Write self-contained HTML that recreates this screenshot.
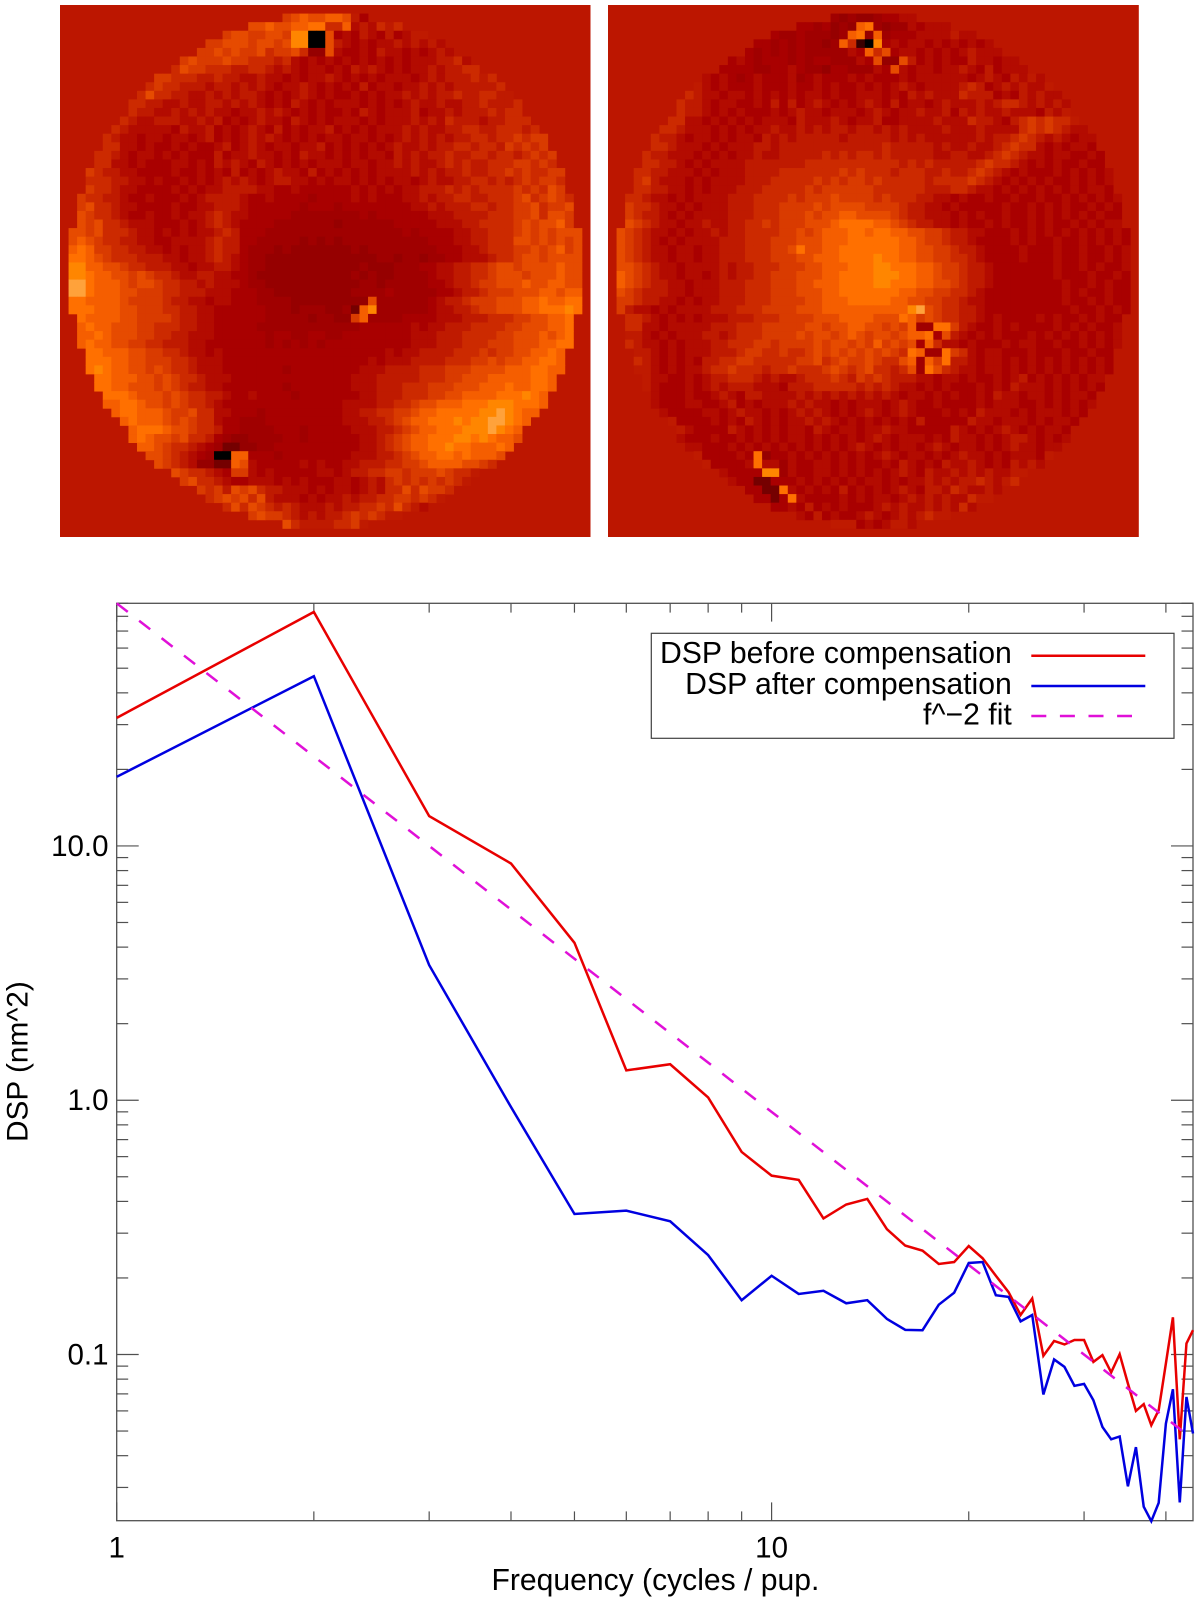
<!DOCTYPE html>
<html><head><meta charset="utf-8"><title>DSP before and after compensation</title>
<style>
html,body{margin:0;padding:0;background:#fff}
svg{display:block}
text{font-family:"Liberation Sans",sans-serif;fill:#000}
</style></head>
<body>
<svg id="fig" width="1200" height="1602" viewBox="0 0 1200 1602" xmlns="http://www.w3.org/2000/svg">
<rect width="1200" height="1602" fill="#fff"/>
<g id="heatLeft"></g>
<g id="heatRight"></g>
<g id="ticks"></g>
<rect x="116.7" y="603.3" width="1076.3" height="917.4" fill="none" stroke="#505050" stroke-width="1.3"/>
<g id="xlabels"></g>
<g id="ylabels"></g>
<text x="491.5" y="1590" font-size="30.1">Frequency (cycles / pup.</text>
<text transform="translate(27.5,1142) rotate(-90)" font-size="29.8">DSP (nm^2)</text>
<polyline id="lineRed" fill="none" stroke="#e80000" stroke-width="2.5" stroke-linejoin="miter"/>
<polyline id="lineBlue" fill="none" stroke="#0000e0" stroke-width="2.5" stroke-linejoin="miter"/>
<polyline id="lineFit" fill="none" stroke="#e010d8" stroke-width="2.5" stroke-dasharray="14 14.4"/>
<g>
<rect x="651.3" y="633.3" width="522.7" height="105" fill="#fff" stroke="#404040" stroke-width="1.2"/>
<text x="1011.8" y="662.8" font-size="30.2" text-anchor="end">DSP before compensation</text>
<text x="1011.8" y="694.2" font-size="30.2" text-anchor="end">DSP after compensation</text>
<text x="1011.8" y="724.5" font-size="30.2" text-anchor="end">f^−2 fit</text>
<line x1="1031.3" x2="1145.3" y1="655.7" y2="655.7" stroke="#e80000" stroke-width="2.5"/>
<line x1="1031.3" x2="1145.3" y1="686" y2="686" stroke="#0000e0" stroke-width="2.5"/>
<line x1="1031.3" x2="1132" y1="716" y2="716" stroke="#e010d8" stroke-width="2.5" stroke-dasharray="15 13.6"/>
</g>
</svg>
<script>
// Spectrum data
const frequencies = [1,2,3,4,5,6,7,8,9,10,11,12,13,14,15,16,17,18,19,20,21,22,23,24,25,26,27,28,29,30,31,32,33,34,35,36,37,38,39,40,41,42,43,44];
const dspBefore = [31.9,83.2,13.1,8.53,4.16,1.31,1.385,1.025,0.626,0.505,0.486,0.343,0.389,0.409,0.311,0.268,0.256,0.227,0.231,0.267,0.239,0.204,0.176,0.143,0.166,0.0988,0.113,0.1095,0.114,0.114,0.0935,0.0994,0.085,0.1003,0.0769,0.06,0.0638,0.0527,0.0604,0.0922,0.14,0.0464,0.1105,0.1246];
const dspAfter = [18.7,46.5,3.4,0.94,0.357,0.368,0.334,0.246,0.1635,0.204,0.173,0.178,0.159,0.1635,0.138,0.125,0.1246,0.157,0.175,0.229,0.231,0.171,0.1685,0.135,0.143,0.0696,0.0956,0.0894,0.0753,0.0766,0.0661,0.0519,0.0464,0.0476,0.0303,0.0432,0.0252,0.0221,0.0261,0.0535,0.073,0.0262,0.0681,0.0489];
const fitFrequencies = [1,42.5];
const fitValues = [90,0.0498];
const xMajorTicks = [1,10];
const xMinorTicks = [2,3,4,5,6,7,8,9,20,30,40];
const xTickLabels = ["1","10"];
const yMajorTicks = [10,1,0.1];
const yMinorTicks = [0.03,0.04,0.05,0.06,0.07,0.08,0.09,0.2,0.3,0.4,0.5,0.6,0.7,0.8,0.9,2,3,4,5,6,7,8,9,20,30,40,50,60,70,80,90];
const yTickLabels = ["10.0","1.0","0.1"];

// Heatmap intensity levels, one string per pupil row
const leftMapRows = [
"9abaabba75",
"aabaabbcc8 8b676878",
"9aa99aa9dd 00a5657657 5677",
"99aaa9aa9a dd00a76565 66767676",
"99a9a99a89 9a833a6556 5766565676",
"9a999a9988 8786565656 5656565666 7786",
"8a99888778 8767656656 5767656566 767788",
"9988877877 6676656566 7656565666 5676777878",
"8988777677 6767656676 5656575665 6676767777 78",
"8a88776676 7677656567 6565565656 6767677877 8877",
"8877667667 7676765657 6565666565 6567667667 787778",
"8776676767 6656676765 6565565765 6667566767 778788",
"8766777667 6756567665 7656566656 5666767687 77677888",
"8766666576 6756567657 5656675656 5666767667 7887788878",
"8766566566 5675656767 6565656656 6565676767 6778878898 99",
"8866565565 6556756765 6656675656 5656766767 7887887989 89",
"8876566565 6555756676 6565766565 6566576767 7877887887 8989",
"8866565556 6565767657 6565656665 6656676766 7878778889 9898",
"9877665555 6556565756 5676657565 6565666676 7677877889 898899",
"8887766565 5656567676 5677665656 6565656656 7667788787 898998",
"9887665555 6565667777 6655655555 5656565667 7787878888 9898a9",
"9887765565 5565677776 5565555455 5565655566 7677887788 89a89a98",
"9a88766555 5655667776 5555554555 4555555556 6767778878 899a899a",
"a988765565 5656678766 5555544444 4445455555 5666777788 899a8aa9",
"a9a8876665 5565678765 5554444444 3444444555 5566677888 89a9aab9",
"aa9a888766 5656566787 5554444444 4444444445 4555566778 889a9a9aaa",
"aba9887766 5566667877 5544444343 4344444444 4455566778 88aa9a9a9a",
"bcb9988776 6565667877 5444343333 3334344444 4445556678 8899a9ab9a",
"ccba988877 7665667876 5443333333 3333334434 4344556667 889aa9aaaa",
"ddbbaa9887 7766566776 5443333333 3333433344 4556677889 aa9aaaabaa",
"ddcbbaa9a9 8876677665 5433333333 3334343344 4456677889 aaa9aaabaa",
"eecbbba9aa 9887767666 5443333333 3333443444 4455677899 aaabaabbaa",
"eecbbbaa99 9887776665 5544333333 3334444544 4445567789 99aaabbabb",
"ccbbbba999 9877665665 5544443333 33333a4444 4456778999 aaabbcbbcc",
"cccbbbaa99 9887766555 5554443444 3342bd4444 4456677899 aaabbcccdc",
"cbbbbaa999 9877665555 5544444344 339b444455 5566677788 899aabbc",
"bcbbaaa998 8877665555 5444444444 4445555556 5667778888 99aaabbc",
"bbcbaaa998 8776665555 5545544554 4555555556 6677788889 9aaababc",
"bcbbaa9988 7776655555 5545454545 5555555556 6677788899 9aaabbcc",
"ccbbbaa998 8766565555 5555555555 5555565667 7778889899 aabbcb",
"cccbbaa999 8876665555 5555555555 5556566677 7788899a9a abbccb",
"cdcbbaa9a9 8876665555 5554555555 5566677778 88999aaaab bbccbb",
"ccbbbaa9a9 8876665555 5555555555 6667777788 899aaabbbb bccb",
"ccbbaaa9a9 8776655555 5545555555 6667778889 99aaabbbcb bccb",
"cccbaaa9a9 8877655655 5545555555 6677788899 aabbbbcccd cb",
"bbccbaa9a9 8876555555 5555555566 6677889aab bbcccdddcc cb",
"bccbbba99a 8866555455 5555555667 78899abbcc cccddedcbb",
"bcbbba9a98 8655444555 5555556667 789abbcccd cddeedcb",
"bcccbaa988 7554444555 4555556667 789abbcccd ddedcb",
"bcbaa9a887 5433444455 4555555667 89abbcccdd cdcbba",
"bba9887654 2233445555 5555556678 9abbccdccb bbcb",
"aa98765400 bb55545555 5555666778 9abbccbcbb ba",
"a98763322b a655555656 5566777889 9abbbbaa98",
"a988765996 5655555665 6778899899 9a9887",
"9a88765566 6565655566 5676898989 8987",
"9897a9a877 6665656656 7688a8a998",
"89a9a8a766 6565667677 88998987",
"8a8a987876 6676778898 a876",
"9a99876767 78989877",
"a877778897"
];
const rightMapRows = [
"4343345566",
"5545343bc4 34465666",
"544544434b c3b4555666 6766",
"5545454434 b810d56566 56565656",
"5454545444 4465b8a566 5656567666",
"5654555454 5544465a33 a756565576 6566",
"5555445565 4435544465 a656656676 575666",
"6565456555 6456555656 5556566666 6567657676",
"7656555655 5655656556 5656765666 6787567676 67",
"8766566565 6565665655 6665657676 6687775657 6766",
"8776566556 5757567656 5676575665 6766676788 767676",
"8776565655 5656766566 6567656676 6757676676 665767",
"8866565656 5666576667 6566755666 6766687765 78989887",
"8876665656 5667667676 7767767676 6667666766 6689898766",
"8776566565 6657676777 7767777767 6766666676 778987676566",
"8876665656 6677677777 7777777877 7776766766 789886565665",
"8776665656 5667667777 7878788787 7777667766 789876656655 65",
"8877656566 6677777778 8888888888 7878777778 9887656565 5655",
"8877666565 6667777888 8888989888 7888778778 9876565556 565656",
"8976665656 6667778888 8989899898 8888788889 8765656565 565656",
"8877665656 6677788888 9899999988 8888777887 6656565656 565665",
"8876656566 6677788889 8999a99998 9888776656 5565565565 56565656",
"9887665656 6677788899 99a9aaaa99 9987766565 5555655656 56556565",
"9877656566 6677788899 9a9aabbaaa a987766656 5655655656 56565655",
"a987665667 6677889899 9aaabccccb ba98776656 5565655656 55656566",
"a987665656 6767788889 9a9abbbccb ccbbaa9987 7665556565 6565656565",
"a987656566 6677788899 9aaabbbccc cccbba9987 7655556565 5655656565",
"a987665665 6677788899 acaabbcccc cccbbaa998 7765555655 5655655656",
"a987665665 6677788899 9aabbbcccc dccbbaa998 8765555655 5655655656",
"aa98766566 6676778889 99aabbbccc ddcccbba99 8776555555 5655656556",
"ba98766566 5676778899 9aaabbcccc dddccbba99 8776555555 5655565565",
"ba98776656 6677788899 9aabbbcccc ddcccbbaa9 8776555555 5565565655",
"a987776656 6677788899 9aaabbcccc cccbbaa998 8765555555 5565655655",
"9987766565 6677788899 99aabbbccc ccbbaa9988 7665555555 5565565655",
"9766565666 6777888999 9aaabbbbbb bbbbdea988 7765555555 5556556565",
"8876565656 6677788899 99aaabbbba aacb9a9887 7656555565 65565655",
"8866566666 7778889999 9aa9aabbaa 9a9b44cc97 6556565555 65656556",
"7765656667 7678889999 a9aa9aba9a a9abbc5a76 5656555656 56565656",
"8766565666 7788899899 99a9aa9a9b 9a9a5b8665 6555656655 65565656",
"7765656667 7789988988 9a9a9a9a9a 98cb44c986 5665556555 655655",
"8765656577 8899888889 9a89a99a98 8ab4b9c776 5665656565 656565",
"7765656678 8988878898 889a989a88 78a4ca8766 5665656565 656565",
"7665565677 8887676678 8898798987 7766566565 5656756565 6566",
"7655565676 7776665777 8888878787 6656565556 5657666565 6565",
"6555655676 5776666767 6767676765 6656565565 7665665656 65",
"6555665567 5656667676 6565666567 6556555565 6665565656 56",
"6555566567 6656567676 5656765676 5556565766 6565666565",
"7555565657 6565667676 5656565657 5555576656 66565665",
"7655557656 5656657656 6566766555 5576565676 565665",
"6555655656 5656656565 6567656665 6576656567 765656",
"6655565656 5656565656 7656566567 6566565676 6566",
"7555565c35 5656565656 5676566565 6766565666 57",
"755556c664 6556656565 5657656576 6765657676",
"65555dd465 5665656565 6765766767 676677",
"6552255565 6565656656 5667676778 7678",
"5522c65656 5756565676 5776876676",
"5525c65555 6565665676 76766877",
"5565756565 5567676676 7686",
"6575655676 56767877",
"7775656776"
];
const pupilRowWidths = [10,18,24,28,30,34,36,40,42,44,46,46,48,50,52,52,54,54,56,56,56,58,58,58,58,60,60,60,60,60,60,60,60,60,60,58,58,58,58,56,56,56,54,54,52,52,50,48,46,46,44,42,40,36,34,30,28,24,18,10];

const cmapScale = {"0":0,"1":40,"2":80,"3":103,"4":110,"5":116,"6":123,"7":131,"8":140,"9":149,"a":158,"b":168,"c":178,"d":190,"e":205,"f":225};
const backgroundLevel = 129;
const svgNS = "http://www.w3.org/2000/svg";
function intensityColor(i){
  const r = Math.min(255, Math.round(i*1.457));
  const g = Math.max(0, Math.min(255, Math.round((i-117)*1.84)));
  const b = Math.max(0, Math.round((i-190)*3.9));
  return "rgb("+r+","+g+","+b+")";
}
function cellColor(ch){
  return intensityColor(cmapScale[ch]);
}
function drawMap(group, rows, x0, y0, w, h){
  const n = 62;
  const cw = w/n, ch = h/n;
  const bg = document.createElementNS(svgNS,"rect");
  bg.setAttribute("x",x0); bg.setAttribute("y",y0); bg.setAttribute("width",w); bg.setAttribute("height",h);
  bg.setAttribute("fill",intensityColor(backgroundLevel));
  
  
  group.appendChild(bg);
  rows.forEach(function(rowText, k){
    const row = rowText.replace(/ /g,"");
    const width = pupilRowWidths[k];
    const start = 31 - width/2;
    for(let j=0;j<width;j++){
      const src = row[Math.min(row.length-1, Math.floor(j*row.length/width))];
      const el = document.createElementNS(svgNS,"rect");
      el.setAttribute("x",(x0+(start+j)*cw).toFixed(2));
      el.setAttribute("y",(y0+(k+1)*ch).toFixed(2));
      el.setAttribute("width",(cw+0.4).toFixed(2));
      el.setAttribute("height",(ch+0.4).toFixed(2));
      el.setAttribute("fill",cellColor(src));
      
      
      group.appendChild(el);
    }
  });
}
drawMap(document.getElementById("heatLeft"), leftMapRows, 60, 5, 530.5, 532);
drawMap(document.getElementById("heatRight"), rightMapRows, 608, 5, 530.8, 532);

// Axis functions
const plotL=116.7, plotR=1193, plotT=603.3, plotB=1520.7;
const xDomain=[1,44], yDomain=[0.0222,90];
function xs(f){ return plotL+(plotR-plotL)*Math.log10(f/xDomain[0])/Math.log10(xDomain[1]/xDomain[0]); }
function ys(v){ return plotB-(plotB-plotT)*Math.log10(v/yDomain[0])/Math.log10(yDomain[1]/yDomain[0]); }
function pts(xv,yv){ return xv.map(function(f,i){ return xs(f).toFixed(2)+","+ys(yv[i]).toFixed(2); }).join(" "); }
document.getElementById("lineRed").setAttribute("points",pts(frequencies,dspBefore));
document.getElementById("lineBlue").setAttribute("points",pts(frequencies,dspAfter));
document.getElementById("lineFit").setAttribute("points",pts(fitFrequencies,fitValues));

const tickG=document.getElementById("ticks");
function tick(x1,y1,x2,y2){
  const el=document.createElementNS(svgNS,"line");
  el.setAttribute("x1",x1); el.setAttribute("y1",y1); el.setAttribute("x2",x2); el.setAttribute("y2",y2);
  el.setAttribute("stroke","#505050"); el.setAttribute("stroke-width","1.2");
  
  
  tickG.appendChild(el);
}
xMinorTicks.forEach(function(f){ const x=xs(f); tick(x,plotB,x,plotB-9.3); tick(x,plotT,x,plotT+9.3); });
xMajorTicks.forEach(function(f){ const x=xs(f); tick(x,plotB,x,plotB-18.3); tick(x,plotT,x,plotT+18.3); });
yMinorTicks.forEach(function(v){ const y=ys(v); tick(plotL,y,plotL+11.5,y); tick(plotR,y,plotR-11.5,y); });
yMajorTicks.forEach(function(v){ const y=ys(v); tick(plotL,y,plotL+22,y); tick(plotR,y,plotR-22,y); });

xMajorTicks.forEach(function(f,i){
  const t=document.createElementNS(svgNS,"text");
  t.setAttribute("x",xs(f).toFixed(1)); t.setAttribute("y",1557.7);
  t.setAttribute("font-size","29.5"); t.setAttribute("text-anchor","middle");
  
  
  t.textContent=xTickLabels[i];
  document.getElementById("xlabels").appendChild(t);
});
yMajorTicks.forEach(function(v,i){
  const t=document.createElementNS(svgNS,"text");
  t.setAttribute("x",108.5); t.setAttribute("y",(ys(v)+10).toFixed(1));
  t.setAttribute("font-size","29.5"); t.setAttribute("text-anchor","end");
  
  
  t.textContent=yTickLabels[i];
  document.getElementById("ylabels").appendChild(t);
});
</script>
</body></html>
